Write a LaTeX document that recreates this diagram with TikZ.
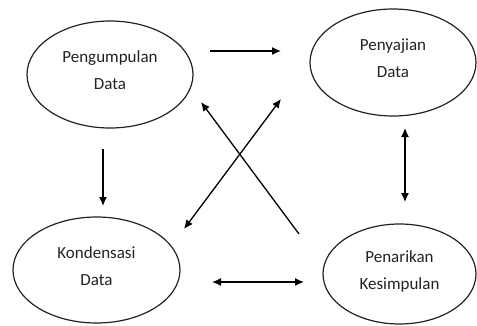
\documentclass[tikz,border=0pt]{standalone}
\usepackage{fontspec}
\setmainfont{Carlito}
\usetikzlibrary{shapes.geometric,arrows.meta}
\definecolor{ink}{HTML}{222222}
\newcommand{\liftedtext}[1]{\raisebox{3.5pt}[\height][\depth]{\begin{tabular}{@{}c@{}}#1\end{tabular}}}
\begin{document}
\begin{tikzpicture}[x=1pt,y=-1pt,
  stage/.style={ellipse,draw=ink,line width=1.2pt,inner sep=0pt,
    text=ink,font=\fontsize{17}{27}\selectfont},
  flow/.style={line width=1.3pt,draw=black,-{Latex[length=9pt,width=8pt]}},
  bothflow/.style={line width=1.3pt,draw=black,{Latex[length=9pt,width=8pt]}-{Latex[length=9pt,width=8pt]}}]
\useasboundingbox (0,0) rectangle (477,325);
\node[stage,minimum width=166pt,minimum height=107pt] (pd) at (110,74.5) {\liftedtext{Pengumpulan\\Data}};
\node[stage,minimum width=166pt,minimum height=107pt] (sd) at (393,62.5) {\liftedtext{Penyajian\\Data}};
\node[stage,minimum width=167pt,minimum height=106pt] (kd) at (96.5,270) {\liftedtext{Kondensasi\\Data}};
\node[stage,minimum width=153pt,minimum height=100pt] (pk) at (399.5,274) {\liftedtext{Penarikan\\Kesimpulan}};
% arrow end points
\coordinate (a1) at (210,51);   \coordinate (a2) at (281,51);
\coordinate (b1) at (103,149);  \coordinate (b2) at (103,206);
\coordinate (c1) at (405,128);  \coordinate (c2) at (405,202);
\coordinate (d1) at (212,282);  \coordinate (d2) at (304,282);
\coordinate (e1) at (299,234);  \coordinate (e2) at (201,102);
\coordinate (f1) at (184,229);  \coordinate (f2) at (281,99);
\draw[flow] (a1) -- (a2);
\draw[flow] (b1) -- (b2);
\draw[bothflow] (c1) -- (c2);
\draw[bothflow] (d1) -- (d2);
\draw[flow] (e1) -- (e2);
\draw[bothflow] (f1) -- (f2);
\end{tikzpicture}
\end{document}
